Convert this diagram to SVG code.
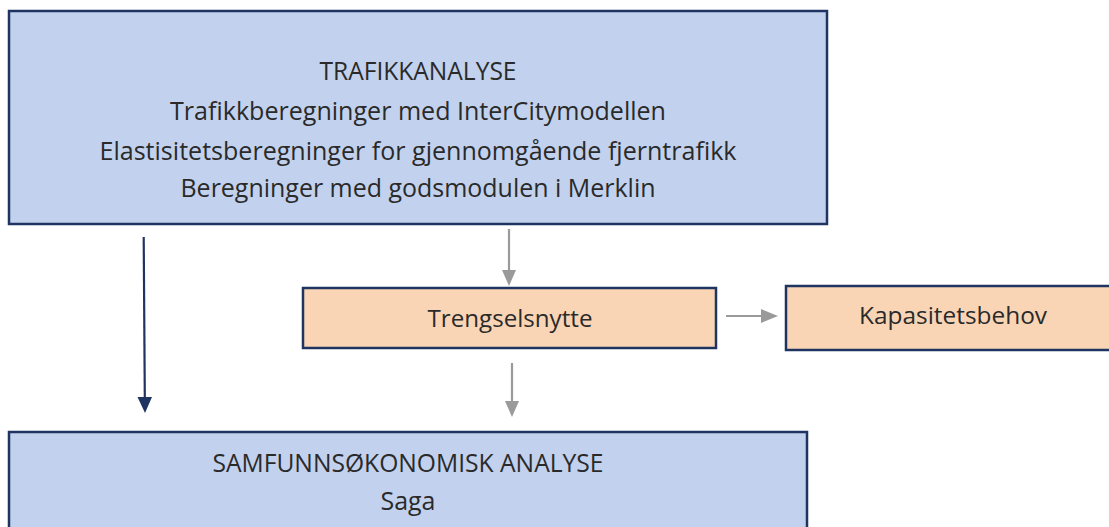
<svg xmlns="http://www.w3.org/2000/svg" width="1109" height="527" viewBox="0 0 1109 527">
<defs>
<style>
.blue{fill:#c2d2ee;stroke:#1f3460;stroke-width:2.5}
.orange{fill:#f9d5b6;stroke:#1f3460;stroke-width:2.5}
text{font-family:"Open Sans","Liberation Sans",sans-serif;fill:#2a2a2a;text-anchor:middle}
.big{font-size:25px}
.mid{font-size:23px}
.gray{stroke:#9a9a9a;stroke-width:2.2;fill:none}
.navy{stroke:#1f3460;stroke-width:2.2;fill:none}
.headg{fill:#9a9a9a}
.headn{fill:#1f3460}
</style>
</defs>
<rect width="1109" height="527" fill="#ffffff"/>
<g id="connectors">
<line class="gray" x1="509" y1="229" x2="509" y2="272"/>
<path class="headg" d="M502,270 L516,270 L509,286 z"/>
<line class="gray" x1="512" y1="363" x2="512" y2="402"/>
<path class="headg" d="M505,401 L519,401 L512,417 z"/>
<line class="gray" x1="726" y1="316" x2="762" y2="316"/>
<path class="headg" d="M761,309 L761,323 L778,316 z"/>
<line class="navy" x1="143.7" y1="237" x2="144.8" y2="398"/>
<path class="headn" d="M137.5,397 L152,397 L145,413 z"/>
</g>
<g id="trafikkanalyse">
<rect class="blue" x="9" y="11" width="818" height="213"/>
<text class="big" x="418" y="80" textLength="197" lengthAdjust="spacingAndGlyphs">TRAFIKKANALYSE</text>
<text class="big" x="418" y="120" textLength="496" lengthAdjust="spacingAndGlyphs">Trafikkberegninger med InterCitymodellen</text>
<text class="big" x="418" y="160" textLength="637" lengthAdjust="spacingAndGlyphs">Elastisitetsberegninger for gjennomgående fjerntrafikk</text>
<text class="big" x="418" y="197" textLength="475" lengthAdjust="spacingAndGlyphs">Beregninger med godsmodulen i Merklin</text>
</g>
<g id="trengselsnytte">
<rect class="orange" x="303" y="288" width="413" height="60"/>
<text class="mid" x="510" y="327" textLength="165" lengthAdjust="spacingAndGlyphs">Trengselsnytte</text>
</g>
<g id="kapasitetsbehov">
<rect class="orange" x="786" y="286" width="330" height="64"/>
<text class="mid" x="953" y="324" textLength="188" lengthAdjust="spacingAndGlyphs">Kapasitetsbehov</text>
</g>
<g id="samfunnsokonomisk">
<rect class="blue" x="9" y="432" width="798" height="110"/>
<text class="big" x="408" y="472" textLength="391" lengthAdjust="spacingAndGlyphs">SAMFUNNSØKONOMISK ANALYSE</text>
<text class="big" x="408" y="510" textLength="55" lengthAdjust="spacingAndGlyphs">Saga</text>
</g>
</svg>
